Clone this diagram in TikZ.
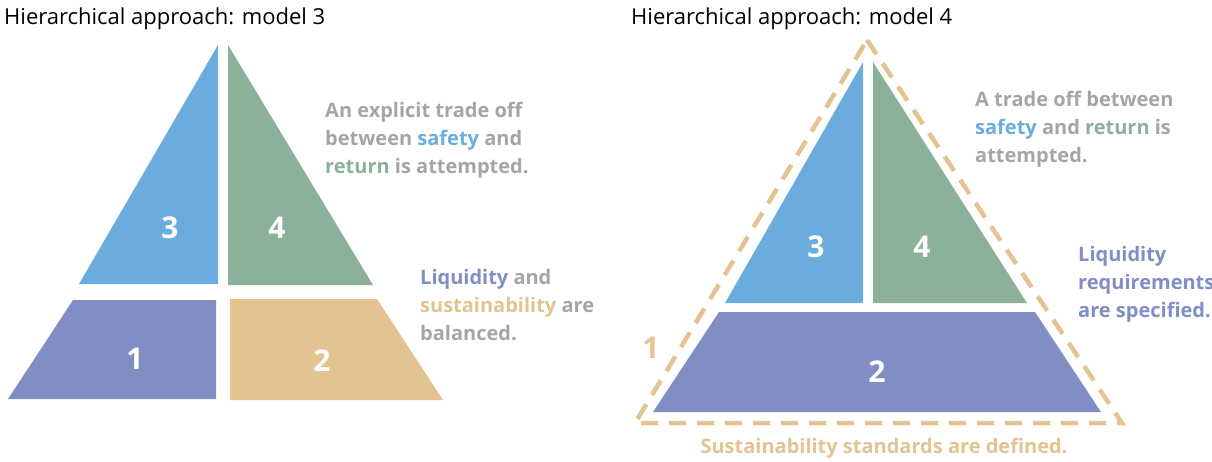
\documentclass[tikz,border=0pt]{standalone}
\usepackage{fontspec}
\setmainfont{Open Sans}
\newfontfamily\titlefont{Open Sans}
\newfontfamily\labfont{Open Sans Bold}
\newfontfamily\numfont{Open Sans Bold}
\definecolor{pblue}{HTML}{6BACDF}
\definecolor{pgreen}{HTML}{8BB19A}
\definecolor{ppurple}{HTML}{808EC4}
\definecolor{ptan}{HTML}{E2C391}
\definecolor{pgray}{HTML}{A5A5A5}
\tikzset{
  titletext/.style={anchor=base west, inner sep=0pt, font=\titlefont\fontsize{22}{26}\selectfont, text=black},
  note/.style={anchor=base west, inner sep=0pt, font=\labfont\fontsize{20}{28}\selectfont, text=pgray},
  num/.style={inner sep=0pt, font=\numfont\fontsize{30}{34}\selectfont, text=white},
  dashtri/.style={draw=ptan, line width=4.5pt, dash pattern=on 17pt off 11pt},
}
\begin{document}
\begin{tikzpicture}[x=1pt,y=-1pt]
\useasboundingbox (0,0) rectangle (1212,461);
% ---------- model 3 ----------
\node[titletext] (title3) at (4,24) {Hierarchical approach: model 3};
\fill[pblue] (218,45) -- (218,284) -- (79,284) -- cycle;
\fill[pgreen] (228,45) -- (373,285) -- (228,285) -- cycle;
\fill[ppurple] (73,300) -- (216,300) -- (216,399) -- (8,399) -- cycle;
\fill[ptan] (230,299) -- (377,299) -- (443,400) -- (230,400) -- cycle;
\node[num] (n3a) at (170,228) {3};
\node[num] (n4a) at (277,228) {4};
\node[num] (n1a) at (135,359) {1};
\node[num] (n2a) at (322,361) {2};
\node[note] (ta1) at (325,117) {An explicit trade off};
\node[note] (ta2) at (325,145) {between \textcolor{pblue}{safety} and};
\node[note] (ta3) at (325,173) {\textcolor{pgreen}{return} is attempted.};
\node[note] (tb1) at (420,284) {\textcolor{ppurple}{Liquidity} and};
\node[note] (tb2) at (420,312) {\textcolor{ptan}{sustainability} are};
\node[note] (tb3) at (420,340) {balanced.};
% ---------- model 4 ----------
\node[titletext] (title4) at (631,24) {Hierarchical approach: model 4};
\fill[pblue] (863,62) -- (863,303) -- (725,303) -- cycle;
\fill[pgreen] (873,62) -- (1027,303) -- (873,303) -- cycle;
\fill[ppurple] (719,312) -- (1035,312) -- (1101,412) -- (653,412) -- cycle;
\draw[dashtri] (867,40) -- (1122,423) -- (635,423) -- cycle;
\node[num] (n3b) at (816,247) {3};
\node[num] (n4b) at (922,247) {4};
\node[num] (n2b) at (877,372) {2};
\node[num, text=ptan] (n1b) at (651,348) {1};
\node[note] (tc1) at (975,106) {A trade off between};
\node[note] (tc2) at (975,134) {\textcolor{pblue}{safety} and \textcolor{pgreen}{return} is};
\node[note] (tc3) at (975,162) {attempted.};
\node[note, text=ppurple] (td1) at (1078,261) {Liquidity};
\node[note, text=ppurple] (td2) at (1078,289) {requirements};
\node[note, text=ppurple] (td3) at (1078,317) {are specified.};
\node[note, text=ptan, anchor=base] (te) at (884,453) {Sustainability standards are defined.};
\end{tikzpicture}
\end{document}
